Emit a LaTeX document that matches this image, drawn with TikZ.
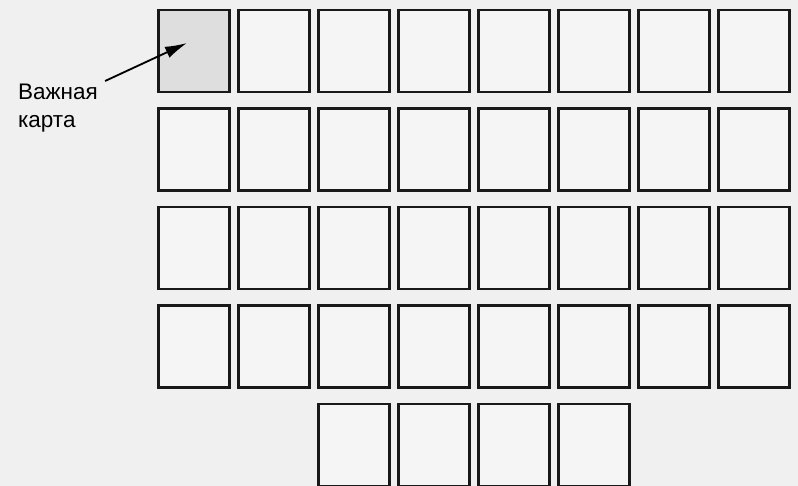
\documentclass[tikz,border=0pt]{standalone}
\usepackage{fontspec}
\setmainfont{Liberation Sans}
\usetikzlibrary{arrows.meta}

\begin{document}
\begin{tikzpicture}[
    x=0.025cm, y=-0.025cm,
    card/.style={rectangle, draw=black!90, line width=1.9pt, fill=black!4, minimum width=1.775cm, minimum height=2.05cm, inner sep=0pt},
    keycard/.style={card, fill=black!13},
    note/.style={align=left, font=\fontsize{16}{19.8}\selectfont, inner sep=2pt},
    arrow/.style={-{Latex[length=0.55cm,width=0.3cm]}, line width=1.3pt}
]
    \fill[black!6] (0,0) rectangle (798,486);
    \useasboundingbox (0,0) rectangle (798,486);

    % four full rows of cards, then the short row
    \foreach \r in {1,...,4}
        \foreach \c in {1,...,8}
            \node [card] (card-\r-\c) at ({194+80*(\c-1)}, {51+98.5*(\r-1)}) {};
    \foreach \c in {3,...,6}
        \node [card] (card-5-\c) at ({194+80*(\c-1)}, 445) {};
    \node [keycard] (keycard) at (card-1-1) {};

    \node [note, anchor=north west] (label) at (15,81) {Важная\\карта};
    \coordinate (tip) at (187,43);

    \draw [arrow] ([xshift=3pt]label.north east) -- (tip);
\end{tikzpicture}
\end{document}
